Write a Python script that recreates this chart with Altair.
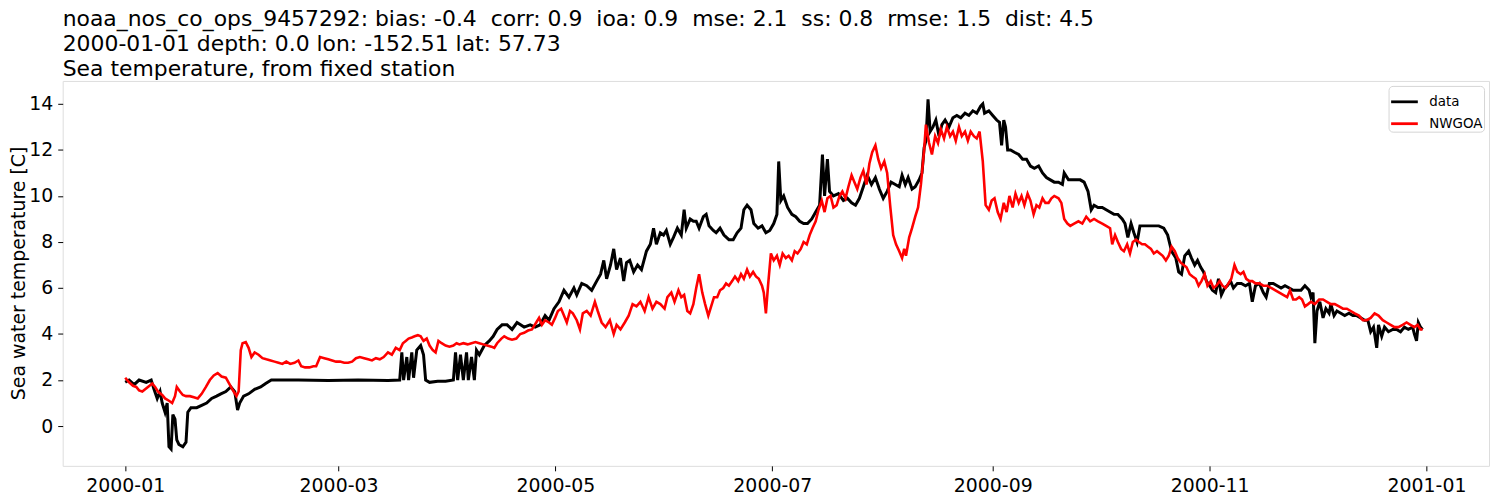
import altair as alt
import pandas as pd

# ---- observed station data ("data") : day offset from 2000-01-01, value [C]
data_days = [0, 1.1, 2.5, 3.9, 5.9, 7.3, 8.1, 9.0, 9.8, 10.4, 11.2, 11.8, 12.3, 12.9, 13.4, 14.0, 14.5, 15.1, 16.2, 17.1,
             17.6, 18.5, 20.1, 21.5, 22.9, 24.3, 25.7, 26.9, 28.3, 29.7, 30.8, 31.6, 32.2, 33.3, 34.7, 36.4, 38.1, 39.5, 41.1,
             48.7, 57.1, 65.5, 73.9, 77.2, 77.8, 78.3, 79.2, 79.7, 80.6, 81.1, 82.0, 83.1, 83.9, 84.5, 85.6, 87.9, 90.1,
             92.3, 92.9, 93.5, 94.3, 95.1, 96.0, 96.5, 97.4, 98.2, 98.8, 99.6, 101.0, 102.4, 103.5, 104.6, 106.0, 107.4,
             108.8, 110.2, 112.2, 113.9, 115.3, 116.7, 118.1, 119.2, 120.6, 122.0, 123.4, 124.8, 126.2, 127.0, 128.4,
             129.8, 131.2, 132.6, 133.7, 134.6, 135.4, 136.5, 137.4, 138.2, 139.3, 140.2, 141.0, 141.9, 143.0, 144.1,
             145.2, 146.6, 147.7, 148.6, 149.4, 150.5, 151.4, 152.2, 153.3, 154.2, 155.3, 156.4, 157.2, 157.8, 158.9,
             159.8, 160.6, 161.4, 162.6, 163.4, 164.2, 165.4, 166.2, 167.3, 168.4, 169.8, 171.0, 172.1, 173.2, 174.0,
             174.9, 176.0, 176.8, 178.0, 179.1, 180.2, 181.3, 182.4, 183.3, 183.8, 184.4, 185.2, 186.3, 187.5, 188.6,
             189.7, 190.8, 191.9, 193.1, 194.2, 195.3, 196.1, 196.7, 197.5, 198.1, 199.2, 200.6, 202.0, 203.1, 204.3,
             205.4, 206.5, 207.6, 208.7, 209.9, 211.0, 212.1, 213.2, 214.3, 215.4, 216.6, 217.7, 218.5, 219.4, 220.2,
             221.3, 222.2, 223.3, 224.1, 224.7, 225.2, 225.8, 226.4, 227.2, 228.0, 228.9, 229.7, 230.6, 231.7, 232.8,
             233.9, 235.0, 236.2, 237.3, 238.4, 239.5, 240.6, 241.2, 241.7, 242.9, 244.0, 245.1, 245.9, 246.5, 247.1,
             247.6, 248.2, 249.0, 250.1, 251.3, 252.4, 253.5, 254.6, 255.7, 256.9, 258.0, 259.1, 260.2, 261.3, 262.5,
             263.6, 264.1, 265.3, 266.9, 268.6, 269.7, 270.8, 271.7, 272.5, 273.6, 274.8, 275.9, 277.0, 278.1, 279.2,
             280.4, 281.2, 282.0, 282.9, 283.7, 284.6, 285.4, 286.5, 287.9, 289.3, 290.7, 292.1, 293.2, 294.3, 295.5,
             296.3, 297.1, 298.0, 299.1, 299.9, 300.8, 301.6, 302.5, 303.3, 304.1, 305.0, 305.8, 306.7, 307.5, 308.3,
             309.2, 310.0, 310.9, 311.7, 312.8, 313.9, 315.1, 316.2, 317.0, 317.9, 319.0, 320.1, 320.9, 321.8, 322.9,
             324.0, 325.1, 326.2, 327.4, 328.5, 329.6, 330.7, 331.8, 333.0, 333.5, 334.1, 334.6, 335.2, 336.0, 336.9,
             337.7, 338.6, 339.1, 340.0, 340.8, 341.9, 343.0, 344.2, 345.3, 346.4, 347.5, 348.6, 349.5, 350.3, 351.1,
             352.0, 352.5, 353.4, 354.2, 355.3, 356.5, 357.6, 358.7, 359.8, 360.9, 362.1, 362.6, 363.2, 363.7, 364.3,
             364.9]
data_vals = [1.9, 2.0, 1.8, 2.0, 1.9, 2.0, 1.6, 1.2, 1.5, 1.0, 0.6, 1.0, -0.9, -1.0, 0.5, 0.3, -0.6, -0.8, -0.9, -0.7,
             0.6, 0.8, 0.8, 0.9, 1.0, 1.2, 1.3, 1.4, 1.5, 1.7, 1.5, 0.7, 1.0, 1.3, 1.4, 1.6, 1.7, 1.85, 2.0,
             2.0, 1.98, 2.0, 1.98, 2.0, 3.2, 2.0, 3.0, 2.0, 3.2, 2.1, 3.3, 3.5, 3.1, 2.0, 1.9, 1.95, 1.95,
             2.0, 3.2, 2.0, 3.1, 2.0, 3.2, 2.0, 3.0, 2.0, 3.3, 3.1, 3.5, 3.7, 3.9, 4.2, 4.4, 4.4,
             4.2, 4.5, 4.3, 4.4, 4.3, 4.4, 4.8, 4.6, 5.1, 5.4, 5.9, 5.6, 6.0, 5.7, 6.2,
             6.1, 5.9, 6.3, 6.6, 7.2, 6.4, 7.0, 7.7, 6.8, 7.3, 6.3, 7.1, 7.2, 6.7, 7.0,
             6.8, 7.6, 7.9, 8.6, 7.9, 8.4, 8.3, 8.5, 7.9, 8.2, 8.6, 8.3, 9.4, 8.6, 9.0,
             8.9, 8.9, 8.6, 9.1, 9.2, 8.7, 8.5, 8.4, 8.6, 8.3, 8.1, 8.1, 8.4, 8.6, 9.4,
             9.6, 9.4, 8.8, 8.6, 8.7, 8.4, 8.5, 8.8, 9.2, 11.5, 9.8, 10.0, 9.5, 9.2, 9.1,
             8.9, 8.8, 8.8, 9.0, 9.3, 9.6, 11.8, 10.0, 11.6, 10.2, 10.0, 10.1, 9.8, 9.9, 9.7,
             9.6, 9.9, 10.4, 10.9, 10.5, 10.8, 10.3, 9.9, 10.2, 10.6, 10.5, 10.4, 10.9, 10.5, 10.8,
             10.3, 10.4, 10.7, 11.0, 12.1, 12.4, 14.2, 12.8, 13.0, 13.3, 12.6, 13.1, 13.3, 13.0, 13.4,
             13.5, 13.4, 13.6, 13.5, 13.7, 13.6, 13.9, 14.0, 13.6, 13.7, 13.5, 13.3, 13.2, 12.2, 13.3,
             13.0, 12.0, 12.0, 11.9, 11.8, 11.6, 11.6, 11.3, 11.2, 11.3, 11.0, 10.8, 10.7, 10.6, 10.6,
             10.5, 11.0, 10.7, 10.7, 10.7, 10.6, 10.2, 9.4, 9.6, 9.5, 9.5, 9.4, 9.3, 9.2, 9.2,
             9.0, 8.8, 8.2, 8.8, 8.4, 8.0, 8.7, 8.7, 8.7, 8.7, 8.7, 8.6, 8.3, 7.6, 7.3,
             6.7, 6.6, 7.4, 7.6, 7.3, 7.0, 7.2, 6.9, 6.7, 6.3, 6.1, 5.9, 5.8, 6.4, 5.7,
             6.0, 6.1, 6.3, 6.0, 6.2, 6.2, 6.1, 6.2, 5.4, 6.1, 6.2, 5.8, 5.6, 6.2, 6.2,
             6.1, 6.0, 6.1, 6.0, 5.9, 5.9, 5.9, 6.1, 5.9, 5.6, 5.8, 3.6, 5.0, 5.4, 4.7,
             5.1, 4.9, 5.3, 4.8, 5.0, 4.9, 4.8, 4.9, 4.8, 4.8, 4.7, 4.6, 4.6, 4.1, 4.3,
             3.4, 4.4, 3.9, 4.3, 4.1, 4.2, 4.2, 4.1, 4.3, 4.2, 4.3, 4.0, 3.7, 4.5, 4.3,
             4.2]

# ---- model ("NWGOA") : day offset from 2000-01-01, value [C]
model_days = [0, 1.1, 2.2, 3.1, 3.9, 4.8, 5.6, 6.4, 7.6, 8.4, 9.2, 10.4, 11.2, 12.3, 13.2, 14.0, 14.5, 15.4, 16.2, 17.1,
              18.2, 19.3, 20.4, 21.5, 22.7, 23.8, 24.9, 26.0, 27.1, 28.3, 29.4, 30.5, 31.3, 31.9, 32.5, 33.0, 33.9, 34.7,
              35.5, 36.4, 37.5, 38.6, 39.7, 40.9, 42.0, 43.1, 44.2, 45.3, 46.4, 47.6, 48.7, 49.5, 50.6, 51.8, 52.9, 53.7,
              54.8, 56.0, 57.1, 58.2, 59.3, 60.4, 61.6, 62.7, 63.8, 64.9, 66.0, 67.2, 68.3, 69.4, 70.5, 71.6, 72.7, 73.9,
              75.0, 76.1, 77.2, 78.1, 78.9, 79.7, 80.6, 81.4, 82.3, 83.1, 83.9, 84.8, 85.6, 86.5, 87.3, 88.1, 89.0, 90.1,
              91.2, 92.3, 93.2, 94.0, 95.1, 96.3, 97.4, 98.5, 99.6, 100.7, 101.8, 103.0, 103.8, 104.6, 105.8, 106.6,
              107.7, 108.8, 110.0, 111.1, 112.2, 113.3, 114.4, 115.6, 116.4, 117.2, 118.1, 119.2, 120.0, 120.9, 121.7,
              122.6, 123.4, 124.2, 125.1, 125.9, 127.0, 127.9, 128.7, 129.8, 130.9, 132.1, 132.9, 134.0, 135.1, 136.3,
              137.4, 138.2, 139.3, 140.5, 141.6, 142.7, 143.8, 144.9, 146.1, 147.2, 148.3, 149.4, 150.5, 151.7, 152.5,
              153.6, 154.5, 155.6, 156.4, 157.2, 158.1, 158.9, 159.8, 160.6, 161.4, 162.3, 163.1, 164.0, 164.8, 165.6,
              166.5, 167.3, 168.2, 169.0, 169.8, 170.7, 171.5, 172.4, 173.2, 174.0, 174.9, 175.7, 176.6, 177.4, 178.2,
              179.1, 179.6, 180.2, 180.8, 181.6, 182.4, 183.3, 184.1, 184.9, 185.8, 186.6, 187.5, 188.3, 189.1, 190.0,
              190.8, 191.7, 192.5, 193.3, 194.2, 195.0, 195.9, 196.7, 197.5, 198.4, 199.2, 200.1, 200.9, 201.7, 202.6,
              203.4, 204.3, 205.1, 205.9, 206.8, 207.6, 208.5, 209.3, 210.1, 211.0, 211.8, 212.6, 213.5, 214.3, 215.2,
              216.0, 216.8, 217.7, 218.5, 219.1, 219.6, 220.5, 221.3, 222.2, 223.0, 223.8, 224.7, 225.2, 226.1, 226.9,
              227.8, 228.6, 229.4, 230.3, 231.1, 232.0, 232.8, 233.6, 234.5, 235.3, 236.2, 237.0, 237.8, 238.7, 239.5,
              240.3, 241.2, 242.0, 242.9, 243.7, 244.5, 245.4, 246.2, 247.1, 247.9, 248.7, 249.6, 250.4, 251.3, 252.1,
              252.9, 253.8, 254.6, 255.5, 256.3, 257.1, 258.0, 258.8, 259.7, 260.5, 261.3, 262.5, 263.3, 264.1, 265.0,
              265.8, 266.9, 268.1, 269.2, 270.3, 271.4, 272.5, 273.6, 274.8, 275.9, 277.0, 277.6, 278.4, 279.2, 280.1,
              280.9, 281.8, 282.6, 283.4, 284.3, 285.1, 286.0, 286.8, 287.6, 288.5, 289.3, 290.2, 291.0, 291.8, 292.7,
              293.5, 294.3, 295.2, 296.0, 296.9, 297.7, 298.5, 299.4, 300.2, 301.1, 301.9, 302.7, 303.6, 304.4, 305.3,
              306.1, 306.9, 307.8, 308.6, 309.5, 310.3, 311.1, 312.0, 312.8, 313.7, 314.5, 315.3, 316.2, 317.0, 317.9,
              319.0, 320.1, 321.2, 322.3, 323.5, 324.6, 325.7, 326.8, 327.6, 328.5, 329.3, 330.2, 331.0, 331.8, 332.7,
              333.5, 334.6, 335.8, 336.9, 338.0, 339.1, 340.2, 341.4, 342.5, 343.6, 344.7, 345.8, 347.0, 348.1, 349.2,
              350.3, 351.4, 352.5, 353.7, 354.8, 355.9, 357.0, 358.1, 359.3, 360.4, 361.5, 362.6, 363.5, 364.3, 364.9]
model_vals = [2.1, 1.9, 1.75, 1.7, 1.55, 1.5, 1.6, 1.7, 1.85, 1.7, 1.5, 1.35, 1.2, 1.1, 1.0, 1.3, 1.7, 1.5, 1.35, 1.3,
              1.3, 1.25, 1.2, 1.4, 1.7, 2.0, 2.2, 2.3, 2.15, 2.1, 1.8, 1.5, 1.3, 1.5, 3.3, 3.6, 3.65, 3.4,
              3.0, 3.2, 3.1, 2.95, 2.9, 2.85, 2.8, 2.75, 2.7, 2.8, 2.7, 2.75, 2.85, 2.6, 2.55, 2.55, 2.6, 2.6,
              3.0, 2.95, 2.9, 2.85, 2.8, 2.8, 2.75, 2.75, 2.8, 2.95, 3.0, 2.95, 2.9, 2.85, 2.95, 2.9, 3.0, 3.2,
              3.1, 3.4, 3.3, 3.6, 3.7, 3.8, 3.85, 3.9, 3.95, 3.9, 3.7, 3.8, 3.5, 3.3, 3.2, 3.7, 3.6, 3.5,
              3.45, 3.5, 3.6, 3.55, 3.6, 3.55, 3.6, 3.65, 3.6, 3.55, 3.5, 3.45, 3.4, 3.6, 3.8, 3.9,
              3.8, 3.75, 3.8, 4.0, 4.05, 4.15, 4.2, 4.5, 4.7, 4.4, 4.6, 4.5, 4.4, 4.7, 5.0,
              5.1, 4.8, 4.5, 5.0, 4.9, 4.6, 4.2, 4.9, 5.0, 4.8, 5.4, 5.0, 4.5, 4.3, 4.6,
              4.0, 4.4, 4.2, 4.5, 4.8, 5.3, 5.2, 5.4, 5.0, 5.6, 5.1, 5.4, 5.3, 5.1, 5.6,
              5.8, 5.4, 5.9, 5.6, 5.7, 5.0, 4.9, 5.3, 6.0, 6.6, 5.8, 5.3, 4.8, 5.2, 5.6,
              5.6, 5.9, 6.0, 6.2, 6.1, 6.3, 6.5, 6.3, 6.6, 6.4, 6.8, 6.5, 6.7, 6.5, 6.4,
              6.1, 5.8, 4.9, 6.1, 7.5, 7.2, 7.4, 7.0, 7.5, 7.3, 7.4, 7.2, 7.6, 7.5, 7.7,
              8.0, 7.9, 8.3, 8.6, 8.9, 9.4, 9.8, 9.3, 9.9, 10.0, 9.5, 9.6, 10.0, 10.2, 9.9,
              10.4, 10.9, 10.6, 10.3, 10.8, 11.1, 10.5, 11.4, 11.9, 12.2, 11.6, 11.2, 11.5, 11.0, 9.5,
              8.3, 7.9, 7.6, 7.3, 7.7, 7.4, 8.2, 8.6, 9.1, 9.5, 10.5, 12.0, 13.1, 12.3, 11.8,
              12.6, 12.3, 12.9, 12.5, 13.0, 12.6, 12.8, 12.4, 13.0, 12.6, 12.8, 12.4, 12.8, 12.6, 12.5,
              12.8, 11.5, 9.6, 9.4, 9.8, 9.9, 9.3, 9.0, 9.7, 9.3, 10.0, 9.5, 10.1, 9.7, 10.0,
              9.6, 10.1, 9.8, 9.2, 9.6, 9.5, 9.9, 9.7, 9.7, 9.9, 10.0, 9.9, 9.7, 9.0, 8.8,
              8.7, 8.8, 8.9, 8.8, 9.1, 8.9, 9.0, 8.9, 8.8, 8.7, 8.6, 7.9, 8.3, 8.0, 7.7,
              7.6, 7.9, 7.5, 8.0, 8.1, 8.0, 7.9, 7.9, 7.8, 7.7, 7.5, 7.6, 7.5, 7.4, 7.2,
              7.4, 7.8, 7.6, 7.3, 7.1, 7.0, 6.9, 6.6, 6.5, 6.4, 6.1, 6.3, 6.6, 6.1, 6.3,
              6.0, 6.1, 6.3, 6.1, 6.0, 6.2, 6.4, 7.0, 6.7, 6.6, 6.7, 6.4, 6.3, 6.3, 6.2,
              6.2, 6.1, 6.1, 6.0, 5.9, 5.8, 5.7, 5.6, 5.9, 5.5, 5.5, 5.6, 5.5, 5.2, 5.3,
              5.4, 5.3, 5.5, 5.5, 5.4, 5.3, 5.3, 5.2, 5.1, 5.1, 5.0, 4.9, 4.8, 4.6, 4.6,
              4.7, 4.9, 4.8, 4.6, 4.5, 4.4, 4.3, 4.3, 4.4, 4.5, 4.4, 4.3, 4.4, 4.2, 4.2]

series_names = ["data", "NWGOA"]
series_colors = ["black", "red"]
x_tick_dates = ["2000-01-01", "2000-03-01", "2000-05-01", "2000-07-01", "2000-09-01", "2000-11-01", "2001-01-01"]
y_ticks = [0, 2, 4, 6, 8, 10, 12, 14]
SP2 = "\u00a0 "  # a visible double space
title_lines = [
    "noaa_nos_co_ops_9457292: bias: -0.4" + SP2 + "corr: 0.9" + SP2 + "ioa: 0.9" + SP2 + "mse: 2.1"
    + SP2 + "ss: 0.8" + SP2 + "rmse: 1.5" + SP2 + "dist: 4.5",
    "2000-01-01 depth: 0.0 lon: -152.51 lat: 57.73",
    "Sea temperature, from fixed station",
]

t0 = pd.Timestamp("2000-01-01")
df_data = pd.DataFrame({
    "time": t0 + pd.to_timedelta(data_days, unit="D"),
    "value": data_vals,
    "series": "data",
})
df_model = pd.DataFrame({
    "time": t0 + pd.to_timedelta(model_days, unit="D"),
    "value": model_vals,
    "series": "NWGOA",
})

FONT = "DejaVu Sans"
x_domain = [pd.Timestamp("1999-12-14T10:00").isoformat(), pd.Timestamp("2001-01-18T14:00").isoformat()]
x_ticks = [pd.Timestamp(d).isoformat() for d in x_tick_dates]

x_enc = alt.X("time:T",
              scale=alt.Scale(domain=x_domain, nice=False),
              axis=alt.Axis(values=x_ticks, format="%Y-%m", title=None, grid=False,
                            tickSize=5, labelPadding=6, labelFontSize=19, labelFont=FONT,
                            labelColor="black", tickColor="black", domain=False, labelFlush=False))
y_enc = alt.Y("value:Q",
              scale=alt.Scale(domain=[-1.73, 15.0], nice=False, zero=False),
              axis=alt.Axis(values=y_ticks, title="Sea water temperature [C]", grid=False,
                            tickSize=5, labelPadding=5, labelFontSize=19, labelFont=FONT,
                            labelColor="black", tickColor="black", domain=False,
                            titleFontSize=19, titleFont=FONT, titleFontWeight="normal",
                            titleColor="black", titleX=-44, titleY=193, titleAngle=270,
                            titleAlign="center", titleBaseline="middle"))
color_enc = alt.Color("series:N",
                      scale=alt.Scale(domain=series_names, range=series_colors),
                      legend=alt.Legend(title=None, orient="top-right", offset=5,
                                        symbolType="stroke", symbolStrokeWidth=2.8, symbolSize=720,
                                        labelFont=FONT, labelFontSize=13.5, labelColor="black",
                                        strokeColor="#d5d5d5", cornerRadius=4, padding=1,
                                        fillColor="white", rowPadding=-5.5, labelOffset=10))

line_data = alt.Chart(df_data).mark_line(strokeWidth=3.0, clip=True).encode(x=x_enc, y=y_enc, color=color_enc)
line_model = alt.Chart(df_model).mark_line(strokeWidth=2.6, clip=True).encode(x=x_enc, y=y_enc, color=color_enc)

chart = alt.layer(line_data, line_model).properties(
    width=1434,
    height=387,
    autosize=alt.AutoSizeParams(type="none"),
    padding={"left": 55, "top": 72, "right": 3, "bottom": 30},
    title=alt.TitleParams(text=title_lines, anchor="start", frame="group", font=FONT, fontSize=22,
                          fontWeight="normal", color="black", lineHeight=25.2, offset=0),
).configure_view(stroke="black", strokeWidth=1.2).configure(background="white")

chart.save("out.html", embed_options={"renderer": "svg", "actions": False})
